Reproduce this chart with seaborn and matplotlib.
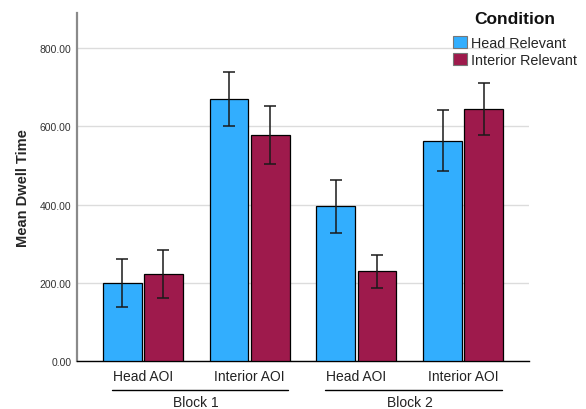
import numpy as np
import pandas as pd
import matplotlib
matplotlib.use("Agg")
import matplotlib.pyplot as plt
import seaborn as sns

# ==============================
# 1. DATA
# ==============================
blocks = ["Block 1", "Block 1", "Block 2", "Block 2"]
aois = ["Head AOI", "Interior AOI", "Head AOI", "Interior AOI"]
conditions = ["Head Relevant", "Interior Relevant"]

head_relevant_mean = [200, 670, 396, 563]
head_relevant_err = [61, 70, 68, 78]
interior_relevant_mean = [222, 578, 230, 645]
interior_relevant_err = [62, 75, 42, 67]

y_ticks = [0, 200, 400, 600, 800]
colors = ["#32AEFE", "#9E1A4C"]

# build the long table seaborn wants
slots = [f"{b}|{a}" for b, a in zip(blocks, aois)]
df = pd.DataFrame({
    "slot": slots * 2,
    "Condition": [conditions[0]] * 4 + [conditions[1]] * 4,
    "mean": head_relevant_mean + interior_relevant_mean,
    "err": head_relevant_err + interior_relevant_err,
})

# ==============================
# 2. PLOT
# ==============================
sns.set_style("white")
plt.rcParams["font.family"] = ["Liberation Sans", "DejaVu Sans"]

fig = plt.figure(figsize=(5.86, 4.10), dpi=100)
ax = fig.add_axes([0.1314, 0.117, 0.7713, 0.849])

sns.barplot(data=df, x="slot", y="mean", hue="Condition", order=slots,
            hue_order=conditions, palette=colors, width=0.77, gap=0.055,
            errorbar=None, edgecolor="black", linewidth=0.9, saturation=1,
            ax=ax, zorder=3)

# error bars at the bar centres seaborn laid out
for cont, cond in zip(ax.containers, conditions):
    sub = df[df["Condition"] == cond].set_index("slot").loc[slots]
    xs = [p.get_x() + p.get_width() / 2 for p in cont.patches]
    ax.errorbar(xs, sub["mean"], yerr=sub["err"], fmt="none",
                ecolor="#1a1a1a", elinewidth=1.1, capsize=4.2,
                capthick=1.1, zorder=4)

ax.set_xlim(-0.614, len(slots) - 1 + 0.614)
ax.set_ylim(0, 890)
ax.set_yticks(y_ticks)
ax.set_yticklabels([f"{v:.2f}" for v in y_ticks], fontsize=7.5, color="#333333")
ax.set_xticks(range(len(slots)))
ax.set_xticklabels(aois, fontsize=10, color="#222222")
ax.tick_params(axis="both", length=0)
ax.tick_params(axis="x", pad=6)
ax.tick_params(axis="y", pad=4)
ax.set_xlabel("")
ax.set_ylabel("Mean Dwell Time", fontsize=10.5, fontweight="bold", labelpad=7)

ax.yaxis.grid(True, color="#dcdcdc", linewidth=1)
ax.set_axisbelow(True)
for s in ["top", "right"]:
    ax.spines[s].set_visible(False)
ax.spines["left"].set_color("#8a8a8a")
ax.spines["left"].set_linewidth(1.6)
ax.spines["bottom"].set_color("black")
ax.spines["bottom"].set_linewidth(1.0)

# block labels under each pair of AOIs
trans = ax.get_xaxis_transform()
for i, blk in enumerate(["Block 1", "Block 2"]):
    x0 = 2 * i - 0.29
    x1 = 2 * i + 1 + 0.36
    ax.plot([x0, x1], [-0.0825, -0.0825], color="black", lw=1.0,
            transform=trans, clip_on=False)
    ax.text((2 * i + 2 * i + 1) / 2, -0.118, blk, transform=trans,
            ha="center", va="center", fontsize=10, color="#222222")

# legend (title drawn separately to get the wider gap)
leg = ax.legend(loc="upper left",
                bbox_to_anchor=(446 / 586, 1 - 30 / 410),
                bbox_transform=fig.transFigure, frameon=False,
                fontsize=10.4, handlelength=0.92, handleheight=0.92,
                handletextpad=0.3, labelspacing=0.2, borderpad=0)
for h in leg.legend_handles:
    h.set_edgecolor("#777777")
    h.set_linewidth(0.8)
fig.text(515 / 586, 1 - 20 / 410, "Condition", ha="center", va="center",
         fontsize=12.5, fontweight="bold", color="#111111")

fig.savefig("out.png", dpi=100)
print("saved out.png")
